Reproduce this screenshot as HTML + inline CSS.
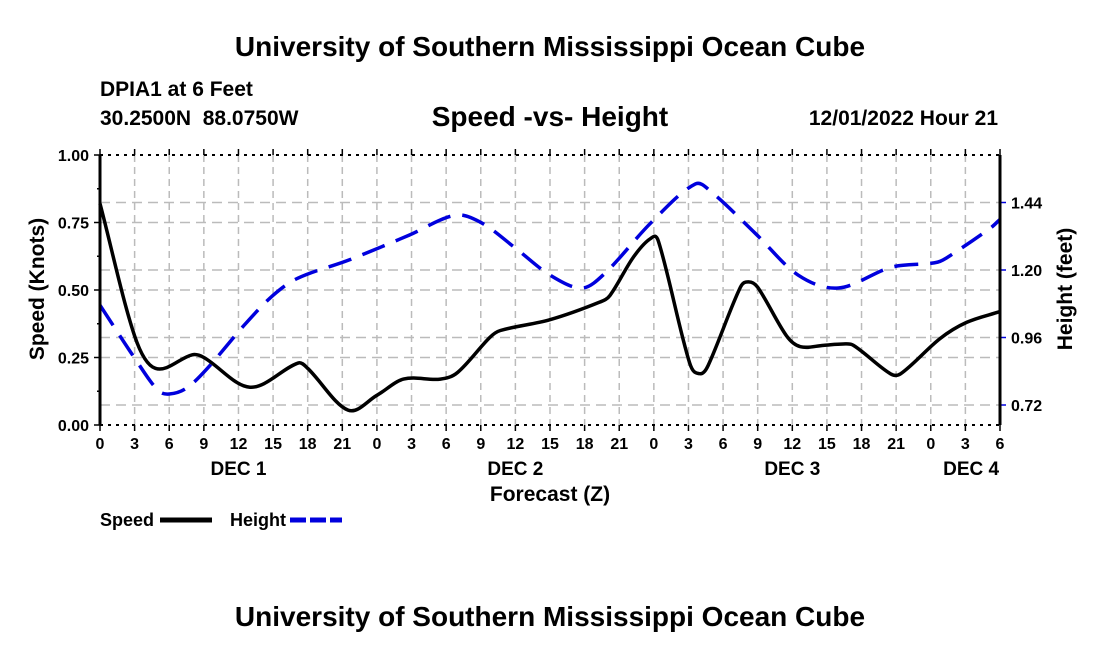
<!DOCTYPE html>
<html><head><meta charset="utf-8"><style>
body{margin:0;background:#fff;}
svg text{font-family:"Liberation Sans",Arial,sans-serif;font-weight:bold;fill:#000;}
</style></head><body>
<svg id="c" width="1100" height="650" xmlns="http://www.w3.org/2000/svg">
<text x="550" y="56" font-size="28" text-anchor="middle">University of Southern Mississippi Ocean Cube</text>
<text x="100" y="96" font-size="21">DPIA1 at 6 Feet</text>
<text x="100" y="125" font-size="21" xml:space="preserve">30.2500N  88.0750W</text>
<text x="550" y="126" font-size="28" text-anchor="middle">Speed -vs- Height</text>
<text x="998" y="125" font-size="21" text-anchor="end">12/01/2022 Hour 21</text>
<g id="grid"></g>
<g id="series"></g>
<g id="axes"></g>
<text x="550" y="501" font-size="21" text-anchor="middle">Forecast (Z)</text>
<text transform="translate(44,289) rotate(-90)" font-size="21" text-anchor="middle">Speed (Knots)</text>
<text transform="translate(1072,289) rotate(-90)" font-size="21" text-anchor="middle">Height (feet)</text>
<g><text x="100" y="526" font-size="18">Speed</text><line x1="160" y1="520" x2="212" y2="520" stroke="#000" stroke-width="5"/></g>
<g><text x="230" y="526" font-size="18">Height</text><line x1="290" y1="520" x2="342" y2="520" stroke="#0000dd" stroke-width="5" stroke-dasharray="16,4"/></g>
<text x="550" y="626" font-size="28" text-anchor="middle">University of Southern Mississippi Ocean Cube</text>
</svg>
<script>
const speedHours=[0,3,4.8,8,9,13,17.2,18,21.5,24,26.3,29.5,31,33.8,34.7,39,43.3,44.2,46.2,47.7,48.4,51.1,52,52.7,55.5,56.2,57,59.5,60.7,62.7,64.4,65.3,68.5,69.4,72.8,75.1,78];
const speedValues=[0.82,0.33,0.21,0.26,0.25,0.14,0.23,0.21,0.055,0.11,0.17,0.17,0.195,0.325,0.35,0.39,0.455,0.48,0.62,0.69,0.68,0.23,0.19,0.22,0.51,0.53,0.51,0.33,0.29,0.295,0.30,0.295,0.19,0.19,0.32,0.38,0.42];
const heightHours=[0,3,5,6,7.5,9.3,12.5,15,17.1,21.6,26.8,30.8,33.1,36,39,41.8,43.8,47.8,51.6,53,56.8,60.5,64,68.6,72.6,74,77.2,78];
const heightValues=[1.075,0.887,0.773,0.759,0.78,0.85,1.004,1.11,1.17,1.236,1.324,1.395,1.367,1.278,1.182,1.136,1.19,1.37,1.506,1.477,1.33,1.182,1.136,1.21,1.228,1.26,1.35,1.38];
const xTickLabels=["0","3","6","9","12","15","18","21","0","3","6","9","12","15","18","21","0","3","6","9","12","15","18","21","0","3","6"];
const dayLabels=["DEC 1","DEC 2","DEC 3","DEC 4"];
const dayHours=[12,36,60,75.5];
const leftTicks=[0,0.25,0.5,0.75,1.0];
const rightTicks=[0.72,0.96,1.20,1.44];
const X0=100,X1=1000,Y0=425,Y1=155;
const x=h=>X0+(h/78)*(X1-X0);
const yL=v=>Y0-v*(Y0-Y1);
const yR=v=>405-(v-0.72)*(67.5/0.24);
const NS="http://www.w3.org/2000/svg";
function mk(tag,at,parent){const e=document.createElementNS(NS,tag);for(const k in at)e.setAttribute(k,at[k]);parent.appendChild(e);return e;}
const grid=document.getElementById('grid'),axes=document.getElementById('axes'),ser=document.getElementById('series');
xTickLabels.forEach((t,i)=>{const h=i*3,px=x(h);
 const g=mk('line',{x1:px,y1:Y1,x2:px,y2:Y0,stroke:'#bbb','stroke-width':1.5,'stroke-dasharray':'7,5'},grid);
 
 
 mk('line',{x1:px,y1:Y0,x2:px,y2:Y0+6,stroke:'#000','stroke-width':1.5},axes);
 mk('line',{x1:px,y1:Y1,x2:px,y2:Y1-6,stroke:'#000','stroke-width':1.5},axes);
 const tx=mk('text',{x:px,y:449,'font-size':16,'text-anchor':'middle'},axes);tx.textContent=t;
 
 
});
dayLabels.forEach((d,i)=>{const tx=mk('text',{x:x(dayHours[i]),y:475,'font-size':19,'text-anchor':'middle'},axes);tx.textContent=d;
 
 });
leftTicks.forEach(v=>{const py=yL(v);
 if(v>0&&v<1){const g=mk('line',{x1:X0,y1:py,x2:X1,y2:py,stroke:'#bbb','stroke-width':1.5,'stroke-dasharray':'10,6'},grid);
 
 }
 mk('line',{x1:X0-6,y1:py,x2:X0,y2:py,stroke:'#000','stroke-width':1.5},axes);
 const tx=mk('text',{x:89,y:py+6,'font-size':16,'text-anchor':'end'},axes);tx.textContent=v.toFixed(2);
 
 
});
for(let v=0.125;v<1;v+=0.25){mk('line',{x1:X0-3,y1:yL(v),x2:X0,y2:yL(v),stroke:'#000','stroke-width':1.5},axes);}
rightTicks.forEach(v=>{const py=yR(v);
 const g=mk('line',{x1:X0,y1:py,x2:X1,y2:py,stroke:'#bbb','stroke-width':1.5,'stroke-dasharray':'10,6'},grid);
 
 
 mk('line',{x1:X1,y1:py,x2:X1+6,y2:py,stroke:'#0000dd','stroke-width':1.5},axes);
 const tx=mk('text',{x:1011,y:py+6,'font-size':16},axes);tx.textContent=v.toFixed(2);
 
 
});
mk('line',{x1:X0,y1:Y1,x2:X1,y2:Y1,stroke:'#000','stroke-width':2,'stroke-dasharray':'3,5'},axes);
mk('line',{x1:X0,y1:Y0,x2:X1,y2:Y0,stroke:'#000','stroke-width':2,'stroke-dasharray':'3,5'},axes);
mk('line',{x1:X0,y1:Y1,x2:X0,y2:Y0,stroke:'#000','stroke-width':3},axes);
mk('line',{x1:X1,y1:Y1,x2:X1,y2:Y0,stroke:'#000','stroke-width':3},axes);
function smooth(pts){const n=pts.length,m=[];
 for(let i=0;i<n;i++){const a=pts[Math.max(0,i-1)],b=pts[Math.min(n-1,i+1)];m.push((b[1]-a[1])/(b[0]-a[0]));}
 let d=`M${pts[0][0]},${pts[0][1]}`;
 for(let i=0;i<n-1;i++){const p1=pts[i],p2=pts[i+1],dx=(p2[0]-p1[0])/3;
  d+=` C${p1[0]+dx},${p1[1]+m[i]*dx} ${p2[0]-dx},${p2[1]-m[i+1]*dx} ${p2[0]},${p2[1]}`;}return d;}
const hp=mk('path',{d:smooth(heightHours.map((h,i)=>[x(h),yR(heightValues[i])])),fill:'none',stroke:'#0000dd','stroke-width':3.5,'stroke-dasharray':'24,12'},ser);


const sp=mk('path',{d:smooth(speedHours.map((h,i)=>[x(h),yL(speedValues[i])])),fill:'none',stroke:'#000','stroke-width':3.5},ser);


</script>
</body></html>
